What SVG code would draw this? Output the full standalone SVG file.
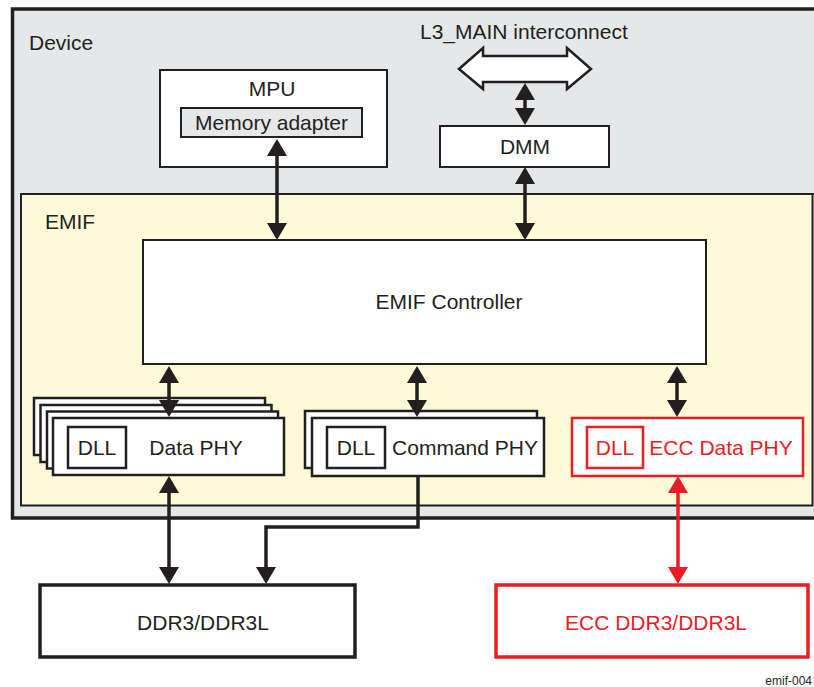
<svg xmlns="http://www.w3.org/2000/svg" width="814" height="687" viewBox="0 0 814 687">
<style>
text{font-family:"Liberation Sans",Arial,sans-serif;font-size:21px;fill:#231f20}
.red{fill:#ed1c24}
.mid{text-anchor:middle}
.box{fill:#fff;stroke:#231f20;stroke-width:2}
.phy{fill:#fff;stroke:#231f20;stroke-width:2.5}
.rphy{fill:#fff;stroke:#ed1c24;stroke-width:2.5}
.con{fill:none;stroke:#231f20;stroke-width:3.5}
.rcon{fill:none;stroke:#ed1c24;stroke-width:3.5}
</style>
<defs>
<marker id="ah" markerUnits="userSpaceOnUse" viewBox="0 0 17 20" refX="13" refY="10" markerWidth="17" markerHeight="20" orient="auto-start-reverse"><path d="M0,0 L17,10 L0,20 z" fill="#231f20"/></marker>
<marker id="rah" markerUnits="userSpaceOnUse" viewBox="0 0 17 20" refX="13" refY="10" markerWidth="17" markerHeight="20" orient="auto-start-reverse"><path d="M0,0 L17,10 L0,20 z" fill="#ed1c24"/></marker>
</defs>
<rect width="814" height="687" fill="#fff"/>
<g id="device">
<path d="M820,9 L12.5,9 L12.5,518 L820,518" fill="#e6e7e8" stroke="#231f20" stroke-width="3.5"/>
<text x="29" y="50">Device</text>
</g>
<g id="interconnect">
<text x="420" y="39">L3_MAIN interconnect</text>
<polygon points="459,69 483,48 483,56 567,56 567,48 591,69 567,89 567,82 483,82 483,89" fill="#fff" stroke="#231f20" stroke-width="2.5" stroke-linejoin="miter"/>
</g>
<g id="mpu">
<rect class="box" x="160" y="70" width="227" height="97"/>
<text class="mid" x="272" y="96">MPU</text>
<rect x="181" y="108" width="181" height="29" fill="#e6e7e8" stroke="#231f20" stroke-width="2"/>
<text class="mid" x="271.5" y="130">Memory adapter</text>
</g>
<g id="dmm">
<rect class="box" x="440" y="126" width="169" height="41"/>
<text class="mid" x="525" y="154">DMM</text>
</g>
<g id="emif">
<path d="M820,194 L812.5,194 L21,194 L21,505.5 L812.5,505.5 L812.5,194" fill="#fef9d7" stroke="#231f20" stroke-width="2"/>
<text x="45" y="229">EMIF</text>
</g>
<g id="controller">
<rect class="box" x="143" y="240" width="563" height="124"/>
<text class="mid" x="449" y="309">EMIF Controller</text>
</g>
<g id="dataphy">
<rect class="phy" x="34" y="398" width="231" height="57"/>
<rect class="phy" x="40.5" y="405" width="231" height="57"/>
<rect class="phy" x="47" y="411.5" width="231" height="57"/>
<rect class="phy" x="53" y="418" width="231" height="57"/>
<rect class="phy" x="68" y="427" width="58" height="41"/>
<text class="mid" x="97" y="455">DLL</text>
<text class="mid" x="196" y="455">Data PHY</text>
</g>
<g id="cmdphy">
<rect class="phy" x="305" y="411" width="232" height="57"/>
<rect class="phy" x="312" y="418" width="232" height="58"/>
<rect class="phy" x="327" y="427" width="58" height="41"/>
<text class="mid" x="356" y="455">DLL</text>
<text class="mid" x="465" y="455">Command PHY</text>
</g>
<g id="eccphy">
<rect class="rphy" x="572" y="418" width="231" height="58"/>
<rect class="rphy" x="587" y="427" width="56" height="41"/>
<text class="mid red" x="615" y="455">DLL</text>
<text class="mid red" x="721" y="455">ECC Data PHY</text>
</g>
<g id="ddr3">
<rect x="40" y="585" width="315" height="72" fill="#fff" stroke="#231f20" stroke-width="3.5"/>
<text class="mid" x="203" y="630">DDR3/DDR3L</text>
</g>
<g id="eccddr3">
<rect x="496" y="585" width="312" height="72" fill="#fff" stroke="#ed1c24" stroke-width="3.5"/>
<text class="mid red" x="656" y="630">ECC DDR3/DDR3L</text>
</g>
<g id="connectors">
<line class="con" x1="525" y1="87" x2="525" y2="121" marker-start="url(#ah)" marker-end="url(#ah)"/>
<line class="con" x1="277" y1="143" x2="277" y2="236" marker-start="url(#ah)" marker-end="url(#ah)"/>
<line class="con" x1="525" y1="171" x2="525" y2="236" marker-start="url(#ah)" marker-end="url(#ah)"/>
<line class="con" x1="169" y1="370" x2="169" y2="413" marker-start="url(#ah)" marker-end="url(#ah)"/>
<line class="con" x1="417" y1="370" x2="417" y2="413" marker-start="url(#ah)" marker-end="url(#ah)"/>
<line class="con" x1="677" y1="370" x2="677" y2="413" marker-start="url(#ah)" marker-end="url(#ah)"/>
<line class="con" x1="169" y1="480" x2="169" y2="580" marker-start="url(#ah)" marker-end="url(#ah)"/>
<polyline class="con" points="418,476 418,527 266,527 266,580" marker-end="url(#ah)"/>
<line class="rcon" x1="678" y1="480" x2="678" y2="580" marker-start="url(#rah)" marker-end="url(#rah)"/>
</g>
<text x="812" y="685" text-anchor="end" style="font-size:12px">emif-004</text>
</svg>
